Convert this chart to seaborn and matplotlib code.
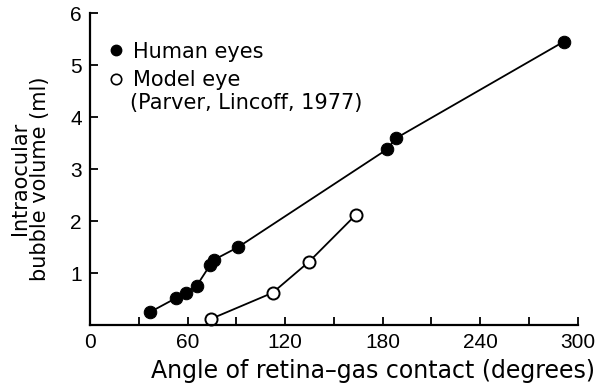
import matplotlib
matplotlib.use("Agg")
import matplotlib.pyplot as plt
import seaborn as sns
import pandas as pd
from matplotlib.lines import Line2D

human_angle = [37, 53, 59, 65.5, 73.8, 76, 91.2, 182.7, 188, 291.3]
human_volume = [0.25, 0.52, 0.62, 0.75, 1.15, 1.25, 1.5, 3.38, 3.59, 5.45]
model_angle = [74.2, 112.3, 134.8, 163.5]
model_volume = [0.115, 0.62, 1.22, 2.12]

x_major = [0, 60, 120, 180, 240, 300]
x_minor = [30, 90, 150, 210, 270]
y_ticks = [1, 2, 3, 4, 5, 6]

sns.set_theme(style="ticks")
plt.rcParams['font.family'] = ['DejaVu Sans']
plt.rcParams['text.color'] = 'black'
plt.rcParams['axes.labelcolor'] = 'black'

human = pd.DataFrame({"angle": human_angle, "volume": human_volume})
model = pd.DataFrame({"angle": model_angle, "volume": model_volume})

fig = plt.figure(figsize=(6.0, 3.86), dpi=100)
ax = fig.add_axes([0.15, 0.158, 0.813, 0.808])

sns.lineplot(data=human, x="angle", y="volume", ax=ax, color="black", lw=1.3,
             marker="o", markersize=9, markerfacecolor="black",
             markeredgecolor="black", sort=False, clip_on=False)
sns.lineplot(data=model, x="angle", y="volume", ax=ax, color="black", lw=1.3,
             marker="o", markersize=8.7, markerfacecolor="white",
             markeredgecolor="black", markeredgewidth=1.4, sort=False, clip_on=False)

ax.set_xlim(0, 300)
ax.set_ylim(0, 6)
ax.set_xticks(x_major)
ax.set_xticks(x_minor, minor=True)
ax.set_yticks(y_ticks)
ax.tick_params(axis="both", which="both", direction="in", labelsize=15,
               color="black", labelcolor="black")
ax.tick_params(axis="both", which="major", length=5.5, width=1.3)
ax.tick_params(axis="x", which="minor", length=5.5, width=1.3)
ax.tick_params(axis="x", pad=6)
ax.tick_params(axis="y", pad=6)
for lab in ax.get_xticklabels() + ax.get_yticklabels():
    lab.set_fontfamily("Liberation Sans")
for s in ["top", "right"]:
    ax.spines[s].set_visible(False)
for s in ["left", "bottom"]:
    ax.spines[s].set_linewidth(1.6)
    ax.spines[s].set_color("black")

ax.set_xlabel("Angle of retina\u2013gas contact (degrees)", fontsize=17,
              color="black")
ax.xaxis.set_label_coords(0.581, -0.108)
ax.set_ylabel("Intraocular\nbubble volume (ml)", fontsize=15, linespacing=1.05,
              color="black")
ax.yaxis.set_label_coords(-0.081, 0.47)

handles = [
    Line2D([], [], ls="none", marker="o", markersize=7.5, color="black",
           markerfacecolor="black"),
    Line2D([], [], ls="none", marker="o", markersize=7.5, color="black",
           markerfacecolor="white", markeredgewidth=1.2),
]
leg = ax.legend(handles, ["Human eyes", "Model eye"], loc="upper left",
                bbox_to_anchor=(0.024, 0.935), frameon=False, fontsize=15,
                handlelength=0.6, handletextpad=0.5, labelspacing=0.42,
                borderaxespad=0.0, labelcolor="black")
ax.text(0.082, 0.712, "(Parver, Lincoff, 1977)", transform=ax.transAxes,
        fontsize=15, va="center", ha="left", color="black")

fig.savefig("out.png", dpi=100)
